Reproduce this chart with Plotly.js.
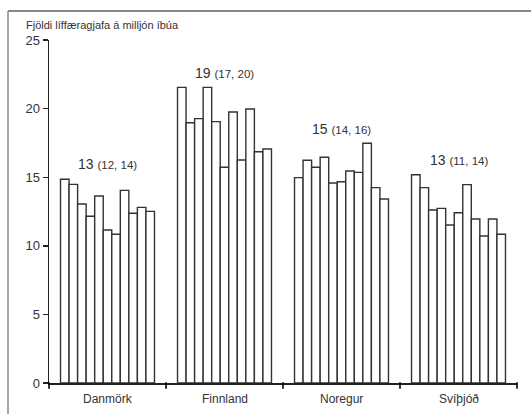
<!DOCTYPE html>
<html>
<head>
<meta charset="utf-8">
<script src="https://cdn.plot.ly/plotly-3.0.1.min.js"></script>
<style>html,body{margin:0;padding:0;background:#fff;}#chart{width:531px;height:414px;}</style>
</head>
<body>
<div id="chart"></div>
<script>
var countries = ["Danmörk", "Finnland", "Noregur", "Svíþjóð"];
// one array per country, 11 yearly values (left to right)
var danmork = [14.85, 14.48, 13.05, 12.15, 13.63, 11.15, 10.84, 14.04, 12.37, 12.80, 12.51];
var finnland = [21.55, 18.97, 19.27, 21.55, 19.05, 15.72, 19.75, 16.25, 19.97, 16.86, 17.06];
var noregur = [14.97, 16.23, 15.72, 16.45, 14.58, 14.67, 15.45, 15.35, 17.47, 14.24, 13.41];
var svithjod = [15.18, 14.24, 12.61, 12.73, 11.52, 12.41, 14.46, 11.95, 10.71, 11.95, 10.84];
var means = ["13", "19", "15", "13"];
var intervals = ["(12, 14)", "(17, 20)", "(14, 16)", "(11, 14)"];
var yTicks = [0, 5, 10, 15, 20, 25];
var yTitle = "Fjöldi líffæragjafa á milljón íbúa";

var series = [danmork, finnland, noregur, svithjod];
var idx = countries.map(function (c, i) { return i; });
var nYears = danmork.length;
var traces = [];
for (var j = 0; j < nYears; j++) {
  traces.push({
    type: 'bar',
    x: idx,
    y: series.map(function (s) { return s[j]; }),
    marker: {color: '#ffffff', line: {color: '#333333', width: 1.4}},
    hoverinfo: 'skip',
    showlegend: false
  });
}
var nCat = countries.length;

var annotations = countries.map(function (c, i) {
  return {
    x: i, xref: 'x', y: Math.max.apply(null, series[i]) + 0.35, yref: 'y',
    yanchor: 'bottom', xanchor: 'center', showarrow: false,
    text: '<span style="font-size:14px">' + means[i] + '</span> <span style="font-size:11.5px">' + intervals[i] + '</span>',
    font: {family: 'Liberation Sans, Arial, sans-serif', size: 14, color: '#333'}
  };
});
countries.forEach(function (c, i) {
  annotations.push({
    x: i, xref: 'x', y: 0, yref: 'paper', yanchor: 'top', xanchor: 'center',
    yshift: -7, showarrow: false, text: c,
    font: {family: 'Liberation Sans, Arial, sans-serif', size: 12, color: '#333'}
  });
});
annotations.push({
  x: -0.0534, xref: 'paper', y: 1.0437, yref: 'paper',
  xanchor: 'left', yanchor: 'middle', showarrow: false,
  text: yTitle,
  font: {family: 'Liberation Sans, Arial, sans-serif', size: 11, color: '#333'}
});

var shapes = [
  {type: 'line', xref: 'paper', yref: 'paper', x0: -0.0876, x1: 1.04, y0: 1.0845, y1: 1.0845,
   line: {color: '#888', width: 2}},
  {type: 'line', xref: 'paper', yref: 'paper', x0: -0.0876, x1: -0.0876, y0: 1.0845, y1: -0.1,
   line: {color: '#888', width: 1.5}}
];
// category boundary ticks below the x axis line (paper fractions of the axis)
for (var b = 0; b <= nCat; b++) {
  shapes.push({type: 'line', xref: 'paper', yref: 'paper', x0: b / nCat, x1: b / nCat, y0: 0.002, y1: -0.017,
    line: {color: '#000', width: 1.6}});
}

var layout = {
  width: 531, height: 414,
  margin: {l: 49, r: 14, t: 40, b: 31, pad: 0},
  paper_bgcolor: '#fff', plot_bgcolor: '#fff',
  barmode: 'group', bargap: 0.197, bargroupgap: 0,
  font: {family: 'Liberation Sans, Arial, sans-serif', color: '#333'},
  xaxis: {
    type: 'linear', range: [-0.5, nCat - 0.5],
    showticklabels: false, ticks: '',
    showline: true, linecolor: '#222', linewidth: 1.5,
    showgrid: false, zeroline: false, fixedrange: true
  },
  yaxis: {
    range: [0, 25], tickvals: yTicks, ticktext: yTicks.map(String),
    ticks: 'outside', ticklen: 5, tickwidth: 1.4, tickcolor: '#222',
    showline: true, linecolor: '#222', linewidth: 1.5,
    showgrid: false, zeroline: false, fixedrange: true,
    tickfont: {size: 13, color: '#333'}
  },
  annotations: annotations,
  shapes: shapes
};

Plotly.newPlot('chart', traces, layout, {displayModeBar: false, staticPlot: true});
</script>
</body>
</html>
